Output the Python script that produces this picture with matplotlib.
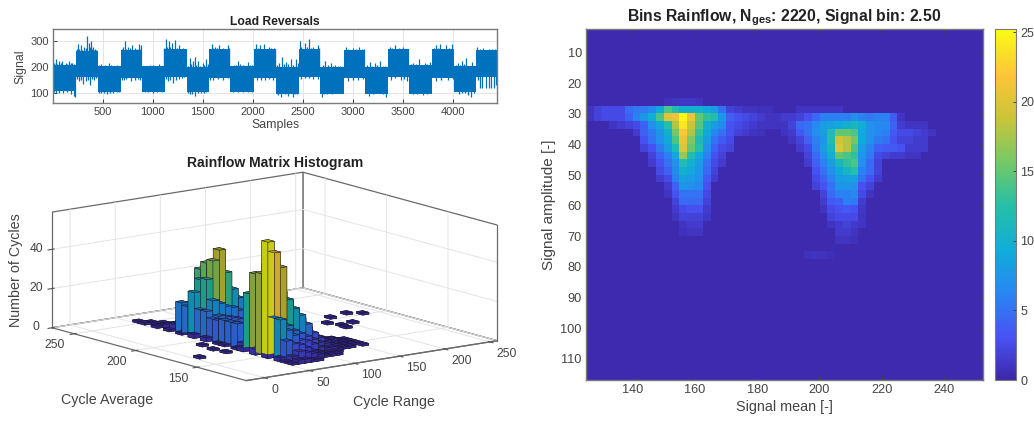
import numpy as np
import matplotlib
matplotlib.use("Agg")
import matplotlib.pyplot as plt
from matplotlib.colors import LinearSegmentedColormap, Normalize
from mpl_toolkits.mplot3d import Axes3D

# load signal, drawn as blocks of dense band plus the single spikes that stick out
block_edges = [1, 230, 447, 677, 893, 1120, 1337, 1563, 1777, 2010, 2230, 2463, 2677, 2910, 3123, 3353, 3563, 3793, 4010, 4230, 4445]
block_hi = [208, 264, 203, 266, 203, 269, 199, 269, 204, 269, 199, 269, 199, 266, 199, 269, 208, 269, 204, 266]
block_lo = [106, 162, 103, 157, 105, 162, 102, 157, 105, 157, 97, 162, 97, 157, 97, 162, 97, 157, 102, 162]
up_x = [30, 60, 95, 130, 160, 195, 250, 280, 310, 345, 360, 380, 400, 420, 480, 520, 560, 600, 640, 670, 700, 720, 750, 790, 820, 860, 880,
        950, 1000, 1060, 1100, 1130, 1160, 1190, 1220, 1260, 1300, 1370, 1400, 1420, 1450, 1500, 1530, 1590, 1620, 1660, 1700, 1750,
        1810, 1850, 1900, 1950, 1990, 2030, 2070, 2110, 2160, 2210, 2260, 2290, 2330, 2380, 2430, 2450, 2470, 2520, 2560, 2600, 2650,
        2720, 2780, 2820, 2870, 2930, 3000, 3060, 3110, 3170, 3220, 3270, 3320, 3370, 3420, 3500, 3550, 3600, 3660, 3720, 3770,
        3830, 3870, 3930, 3990, 4050, 4090, 4130, 4190, 4245, 4300, 4360, 4420]
up_y = [230, 225, 222, 215, 225, 215, 290, 285, 280, 322, 295, 300, 280, 270, 212, 210, 218, 205, 210, 205, 280, 302, 280, 285, 275, 290, 285,
        205, 210, 212, 205, 310, 300, 295, 305, 285, 275, 235, 225, 240, 225, 215, 230, 290, 280, 285, 275, 285,
        210, 225, 210, 220, 210, 290, 285, 290, 280, 275, 215, 240, 220, 232, 230, 215, 300, 295, 310, 280, 285,
        225, 215, 210, 205, 280, 275, 280, 270, 220, 215, 225, 205, 280, 285, 280, 270, 215, 230, 215, 220,
        285, 290, 285, 290, 215, 225, 235, 220, 280, 275, 272, 272]
down_x = [30, 100, 180, 215, 225, 260, 305, 330, 370, 410, 480, 540, 600, 640, 710, 780, 850, 920, 1000, 1090, 1150, 1200, 1260, 1310,
          1370, 1420, 1480, 1530, 1600, 1700, 1800, 1900, 1990, 2040, 2120, 2200, 2280, 2350, 2400, 2440, 2480, 2600, 2650,
          2690, 2740, 2850, 2950, 3050, 3160, 3260, 3330, 3380, 3480, 3540, 3600, 3700, 3770, 3830, 3950,
          4060, 4120, 4180, 4210, 4270, 4290, 4330, 4360, 4385, 4410, 4430]
down_y = [100, 100, 95, 88, 85, 145, 135, 148, 130, 150, 100, 95, 98, 105, 150, 148, 155, 105, 100, 105, 145, 140, 155, 160,
          95, 88, 100, 105, 150, 150, 105, 102, 105, 150, 150, 150, 85, 88, 85, 95, 155, 155, 155,
          85, 95, 100, 145, 150, 90, 100, 85, 150, 150, 145, 95, 92, 100, 145, 150,
          95, 100, 85, 100, 120, 120, 118, 118, 118, 120, 130]
# smaller ripple along the band edges
ripple_up_x = [15, 45, 80, 110, 145, 178, 212, 240, 265, 295, 328, 370, 390, 410, 435, 460, 500, 540, 580, 620, 655, 690, 735, 770, 805, 840, 872,
               930, 975, 1030, 1080, 1112, 1145, 1175, 1205, 1240, 1280, 1320, 1355, 1385, 1435, 1475, 1515, 1550, 1575, 1605, 1640, 1680, 1725, 1765,
               1790, 1830, 1875, 1925, 1970, 2020, 2050, 2090, 2135, 2185, 2220, 2245, 2310, 2355, 2405, 2480, 2540, 2580, 2625, 2665,
               2700, 2750, 2800, 2850, 2895, 2950, 3030, 3090, 3145, 3195, 3245, 3300, 3340, 3395, 3460, 3530, 3580, 3630, 3690, 3745,
               3810, 3850, 3900, 3960, 4030, 4070, 4110, 4160, 4215, 4270, 4330, 4390]
ripple_up_y = [215, 212, 218, 210, 214, 216, 212, 272, 270, 268, 274, 278, 272, 268, 265, 208, 204, 206, 210, 206, 204, 272, 270, 276, 268, 272, 270,
               190, 208, 206, 204, 275, 280, 278, 272, 276, 270, 268, 204, 212, 210, 206, 208, 212, 272, 276, 274, 270, 272, 276,
               205, 208, 212, 206, 208, 272, 276, 272, 270, 274, 270, 208, 212, 214, 210, 278, 280, 274, 272, 276,
               208, 210, 206, 204, 200, 272, 270, 272, 208, 206, 210, 204, 200, 274, 276, 272, 212, 214, 210, 212,
               274, 276, 272, 276, 208, 210, 212, 206, 204, 270, 268, 270]
ripple_down_x = [15, 60, 140, 245, 285, 350, 395, 435, 465, 510, 570, 660, 690, 735, 820, 875, 950, 1040, 1130, 1175, 1230, 1290,
                 1350, 1395, 1450, 1510, 1575, 1650, 1750, 1850, 1950, 2080, 2160, 2250, 2320, 2420, 2520, 2560,
                 2710, 2790, 2890, 3000, 3100, 3200, 3300, 3420, 3510, 3640, 3740, 3880, 4000, 4090, 4150, 4250]
ripple_down_y = [102, 100, 104, 155, 152, 150, 155, 158, 98, 100, 98, 102, 152, 154, 150, 152, 102, 104, 155, 150, 152, 158,
                 98, 96, 100, 100, 152, 154, 156, 102, 104, 152, 154, 92, 94, 96, 158, 156,
                 94, 96, 98, 152, 154, 96, 94, 156, 154, 96, 94, 152, 154, 98, 92, 150]

# 3d histogram counts, one row per cycle average bin, one column per cycle range bin
range_bins = [55, 62, 69, 76, 83, 90, 97, 104, 111, 118, 125, 132, 139, 146, 153]
avg_bins = [127.5, 132.5, 137.5, 142.5, 147.5, 152.5, 157.5, 162.5, 167.5, 172.5, 177.5, 182.5, 187.5, 192.5,
            197.5, 202.5, 207.5, 212.5, 217.5, 222.5, 227.5, 232.5, 237.5, 242.5, 247.5, 252.5]
counts = [
    [1, 2, 2, 1, 1, 0, 0, 0, 0, 0, 0, 0, 0, 0, 0],
    [1, 3, 5, 4, 3, 2, 1, 1, 1, 0, 0, 0, 0, 0, 0],
    [2, 10, 8, 7, 5, 3, 2, 1, 1, 1, 0, 0, 0, 0, 0],
    [0, 20, 14, 11, 8, 7, 5, 3, 2, 2, 1, 1, 1, 0, 1],
    [2, 20, 18, 15, 12, 10, 8, 6, 4, 3, 2, 1, 1, 1, 1],
    [0, 58, 52, 44, 27, 22, 18, 13, 8, 5, 3, 2, 1, 1, 1],
    [3, 41, 45, 38, 30, 25, 20, 15, 10, 6, 4, 2, 2, 1, 1],
    [0, 40, 33, 28, 24, 20, 15, 11, 8, 5, 3, 2, 1, 1, 0],
    [2, 29, 24, 20, 16, 13, 10, 7, 5, 3, 2, 1, 1, 0, 0],
    [1, 3, 4, 3, 3, 2, 2, 1, 1, 0, 0, 0, 0, 0, 0],
    [0, 12, 7, 5, 4, 3, 2, 2, 1, 1, 0, 0, 0, 0, 0],
    [1, 12, 8, 6, 5, 4, 3, 2, 2, 1, 1, 0, 0, 0, 0],
    [1, 12, 9, 7, 6, 5, 4, 3, 2, 2, 1, 1, 0, 0, 0],
    [0, 11, 10, 9, 8, 7, 6, 5, 4, 3, 2, 1, 1, 0, 0],
    [2, 11, 12, 11, 10, 9, 8, 6, 5, 4, 3, 2, 1, 1, 0],
    [0, 14, 19, 17, 15, 14, 12, 10, 8, 6, 5, 3, 2, 1, 1],
    [2, 14, 29, 38, 43, 31, 22, 17, 15, 13, 9, 6, 3, 2, 1],
    [0, 22, 28, 36, 34, 27, 19, 14, 10, 7, 4, 3, 1, 1, 0],
    [1, 14, 16, 32, 30, 24, 16, 12, 8, 5, 3, 2, 1, 0, 0],
    [0, 15, 14, 16, 28, 18, 12, 8, 5, 3, 2, 1, 0, 0, 0],
    [1, 3, 4, 4, 3, 2, 2, 1, 1, 0, 0, 0, 0, 0, 0],
    [0, 2, 2, 2, 1, 1, 1, 0, 0, 0, 0, 0, 0, 0, 0],
    [1, 1, 0, 1, 0, 0, 0, 0, 0, 0, 0, 0, 0, 0, 0],
    [0, 1, 1, 0, 0, 0, 0, 0, 0, 0, 0, 0, 0, 0, 0],
    [1, 1, 0, 0, 0, 0, 0, 0, 0, 0, 0, 0, 0, 0, 0],
    [1, 0, 0, 0, 0, 0, 0, 0, 0, 0, 0, 0, 0, 0, 0],
]
# loose single-count bins away from the main block
tile_range = [233, 222, 200, 203, 188, 186, 183, 6, 39, 38, 36]
tile_avg = [201, 206, 203, 187, 185, 180, 193, 167, 189, 169, 178]

# rainflow matrix, entries are (row, first column, values); everything else is background
heat_background = 0.3
heat_rows = 46
heat_cols = 51
heat_cells = [
    (9, 10, [0.8, 1, 1.2, 1.2, 1]),
    (10, 0, [1, 2, 2.5, 2.5, 2.5, 4.5, 5.5, 5.5, 6.5, 9, 14, 12, 10, 10, 10, 9, 8, 5, 2, 1.5, 1, 1, 0.8, 0.8]),
    (10, 27, [1, 1, 1, 1, 1, 1]),
    (11, 0, [1, 2, 2.5, 2.5, 2.5, 4, 6, 7.5, 9.5, 14, 20, 21, 25, 21, 15, 13, 12, 7.5, 4, 3, 2.5, 2, 1.5, 1]),
    (11, 24, [1, 1.5, 1.5, 2, 3, 4.5, 6, 6, 6, 6, 7, 6, 5.5, 6, 6, 3.5, 1]),
    (12, 3, [1, 1.5, 2, 2.5, 4, 7, 9, 12.5, 18, 24, 19, 14.5, 10, 8, 6.5, 3, 2.5, 2, 1.5, 1, 1, 0.8]),
    (12, 24, [1, 1, 2, 4.5, 5, 6.5, 8, 8.5, 9, 10, 11, 9.5, 7, 6.5, 6.5, 4, 1.5, 1, 1, 1]),
    (13, 6, [1.5, 4, 5.5, 7.5, 10, 15.5, 22, 18, 13, 9, 6.5, 5, 3, 2, 1.5, 1, 0.8]),
    (13, 25, [1, 1.5, 3.5, 5, 7, 8, 12, 15, 15, 14, 9, 7, 6.5, 6, 3.5, 2.5, 2.5, 2, 1.5, 1]),
    (14, 7, [3, 5, 7, 9, 14, 21, 16, 11.5, 8, 5, 3.5, 2.5]),
    (14, 26, [1, 2, 4, 6, 7.5, 12, 19, 18, 15.5, 9, 7, 5.5, 5, 3, 2, 2, 1.5, 1.5]),
    (15, 7, [2, 3, 5.5, 8, 12, 20, 15, 12.5, 7, 4, 2.5, 2]),
    (15, 27, [1.5, 2.5, 5.5, 8, 11, 20, 18, 14, 8, 6, 4, 3.5, 3.5, 3, 1.5, 1.5, 1.5]),
    (16, 8, [2, 4, 6, 9, 17, 12, 9, 6, 3, 2]),
    (16, 28, [2, 4.5, 7, 10, 15, 14, 13, 7.5, 5.5, 2.5, 2, 1.5, 1.5, 1, 1]),
    (17, 8, [1.5, 3, 5, 7, 12, 10, 8, 5, 2.5, 1.5]),
    (17, 28, [1.5, 4, 6, 8, 11, 13, 14, 7, 4.5, 2]),
    (18, 9, [2.5, 4, 6.5, 10, 9, 7.5, 4.5, 2]),
    (18, 29, [3, 5, 7, 9, 11, 12.5, 6, 4.5, 2]),
    (19, 9, [1.5, 2.5, 6, 8.5, 8, 7, 3.5, 1.5]),
    (19, 29, [2.5, 4, 6, 8, 8.5, 8.5, 5, 3, 1.5]),
    (20, 10, [1.5, 4, 7.5, 7, 6.5, 3]),
    (20, 29, [2, 3, 5, 7.5, 7.5, 7, 3, 2]),
    (21, 10, [1, 3, 5, 5, 5, 2.5]),
    (21, 30, [2, 4.5, 6, 6, 6.5, 2.5, 1]),
    (22, 11, [2, 4.5, 4.5, 4.5, 2]),
    (22, 30, [1.5, 3.5, 4, 6, 5.5, 1.5]),
    (23, 11, [1.5, 2.5, 3, 3, 1.5]),
    (23, 30, [1, 2.5, 3, 3.5, 3, 1.2]),
    (24, 11, [1, 2, 2, 2, 1.2]),
    (24, 31, [2, 2.5, 2.5, 2.5, 1]),
    (25, 12, [1, 1.5, 1.5]),
    (25, 31, [1, 1.5, 2, 1.5, 1]),
    (26, 12, [0.8, 1, 1]),
    (26, 32, [1.5, 1.5, 1]),
    (27, 32, [1, 1, 0.8]),
    (29, 28, [0.8, 0.9, 0.9, 0.7]),
]

# key colours of MATLAB's parula
parula_stops = [0.0, 0.12, 0.25, 0.37, 0.50, 0.62, 0.75, 0.87, 1.0]
parula_colors = [(0.2422, 0.1504, 0.6603), (0.2810, 0.3228, 0.9579), (0.1580, 0.5300, 0.9500),
                 (0.0590, 0.6800, 0.8500), (0.1500, 0.7500, 0.6500), (0.4500, 0.7900, 0.4000),
                 (0.8000, 0.7700, 0.2200), (0.9900, 0.7700, 0.2200), (0.9769, 0.9839, 0.0805)]
parula = LinearSegmentedColormap.from_list("parula", list(zip(parula_stops, parula_colors)))

plt.rcParams['font.family'] = ['Liberation Sans', 'DejaVu Sans']
plt.rcParams['mathtext.fontset'] = 'custom'
plt.rcParams['mathtext.bf'] = 'Liberation Sans:bold'
plt.rcParams['grid.color'] = '#e4e4e4'
plt.rcParams['grid.linewidth'] = 0.7

W, H = 1034, 423
text_col = '#444444'
edge_col = '#7a7a7a'
blue = '#0072BD'


def rect(left, top, right, bottom):
    return [left / W, 1 - bottom / H, (right - left) / W, (bottom - top) / H]


def style2d(ax, size):
    for s in ax.spines.values():
        s.set_color(edge_col)
        s.set_linewidth(1.0)
    ax.tick_params(direction='in', length=3, width=0.7, color='#444444', labelcolor=text_col, labelsize=size, pad=3)


fig = plt.figure(figsize=(W / 100, H / 100), dpi=100)

# load reversals
ax1 = fig.add_axes(rect(53, 29.5, 497, 103))
ax1.set_axisbelow(True)
ax1.grid(True)
ax1.bar(block_edges[:-1], np.array(block_hi) - np.array(block_lo), width=np.diff(block_edges), bottom=block_lo, align='edge', color=blue)
ax1.vlines(up_x, 200, up_y, color=blue, linewidth=0.9)
ax1.vlines(down_x, 170, down_y, color=blue, linewidth=0.9)
ax1.vlines(ripple_up_x, 185, ripple_up_y, color=blue, linewidth=1.0)
ax1.vlines(ripple_down_x, 175, ripple_down_y, color=blue, linewidth=1.0)
ax1.set_xlim(1, 4444)
ax1.set_ylim(61, 346)
ax1.set_xticks([500, 1000, 1500, 2000, 2500, 3000, 3500, 4000])
ax1.set_yticks([100, 200, 300])
style2d(ax1, 8)
ax1.set_xlabel('Samples', fontsize=8.8, color=text_col, labelpad=1)
ax1.set_ylabel('Signal', fontsize=8.8, color=text_col, labelpad=3)
ax1.set_title('Load Reversals', fontsize=8.7, fontweight='bold', color='#222222', pad=3)

# 3d histogram, axes kept larger than the box so nothing gets clipped
ax2 = fig.add_axes(rect(-33.5, -15.5, 566.5, 584.5), projection='3d', proj_type='ortho')
ax2.set_facecolor('none')
ax2.set_zorder(-1)
ax2.view_init(elev=12, azim=-127.4)
ax2.set_box_aspect((315, 319, 118), zoom=1.03 * 438 / 600)
count_arr = np.array(counts)
bar_x, bar_y, bar_h = [], [], []
for i, a in enumerate(avg_bins):
    for j, r in enumerate(range_bins):
        if count_arr[i, j] > 0:
            bar_x.append(r - 3.5)
            bar_y.append(a - 2.5)
            bar_h.append(count_arr[i, j])
for r, a in zip(tile_range, tile_avg):
    bar_x.append(r - 3.5)
    bar_y.append(a - 2.5)
    bar_h.append(1)
bar_col = parula(Normalize(0, 58)(np.array(bar_h, dtype=float)))
bar_col[:, :3] *= 0.92
ax2.bar3d(bar_x, bar_y, 0, 7, 5, bar_h, color=bar_col, shade=True, edgecolor='#1a1a2a', linewidth=0.3)
ax2.plot([258, 258], [110, 110], [0, 59], color='#6a6a6a', linewidth=0.9)
ax2.set_xlim(-20, 258, view_margin=0)
ax2.set_ylim(110, 268, view_margin=0)
ax2.set_zlim(0, 59, view_margin=0)
ax2.set_xticks([0, 50, 100, 150, 200, 250])
ax2.set_yticks([150, 200, 250])
ax2.set_zticks([0, 20, 40])
for axis in (ax2.xaxis, ax2.yaxis, ax2.zaxis):
    axis.set_pane_color((1, 1, 1, 1))
    axis.pane.set_edgecolor('#6a6a6a')
    axis.pane.set_linewidth(0.9)
    axis.line.set_color('#6a6a6a')
    axis.line.set_linewidth(0.9)
ax2.tick_params(labelsize=8.7, labelcolor=text_col, color='#555555', pad=0)
for lab in ax2.get_xticklabels():
    lab.set_ha('left')
for lab in ax2.get_yticklabels():
    lab.set_ha('right')
for lab in ax2.get_zticklabels():
    lab.set_va('center')
fig.text(275 / W, 1 - 163 / H, 'Rainflow Matrix Histogram', fontsize=10.1, fontweight='bold', color='#222222', ha='center', va='center')
fig.text(107 / W, 1 - 400 / H, 'Cycle Average', fontsize=10.3, color=text_col, ha='center', va='center')
fig.text(394 / W, 1 - 402 / H, 'Cycle Range', fontsize=10.3, color=text_col, ha='center', va='center')
fig.text(16 / W, 1 - 270 / H, 'Number of Cycles', fontsize=10.3, color=text_col, ha='center', va='center', rotation=90)

# rainflow matrix
heat = np.full((heat_rows, heat_cols), heat_background)
for row, col, vals in heat_cells:
    heat[row, col:col + len(vals)] = vals
ax3 = fig.add_axes(rect(586, 29.5, 983, 380))
im = ax3.imshow(heat, extent=[125, 252.5, 117.5, 2.5], aspect='auto', cmap=parula, vmin=0, vmax=25.2, interpolation='nearest')
ax3.set_xlim(125, 252.5)
ax3.set_ylim(116.9, 2.45)
ax3.set_xticks([140, 160, 180, 200, 220, 240])
ax3.set_yticks([10, 20, 30, 40, 50, 60, 70, 80, 90, 100, 110])
style2d(ax3, 9.2)
ax3.tick_params(top=True, right=True)
ax3.set_xlabel('Signal mean [-]', fontsize=10.4, color=text_col, labelpad=3)
ax3.set_ylabel('Signal amplitude [-]', fontsize=11, color=text_col, labelpad=3)
ax3.set_title(r'Bins Rainflow, $\mathbf{N_{ges}}$: 2220, Signal bin: 2.50', fontsize=11.3, fontweight='bold', color='#222222', pad=6)

cax = fig.add_axes(rect(994.5, 29.5, 1016, 380))
cb = fig.colorbar(im, cax=cax, ticks=[0, 5, 10, 15, 20, 25])
cb.outline.set_edgecolor(edge_col)
cb.ax.tick_params(direction='in', length=2.5, width=0.7, color='#444444', labelcolor=text_col, labelsize=9, pad=3)

fig.savefig('out.png', dpi=100)
